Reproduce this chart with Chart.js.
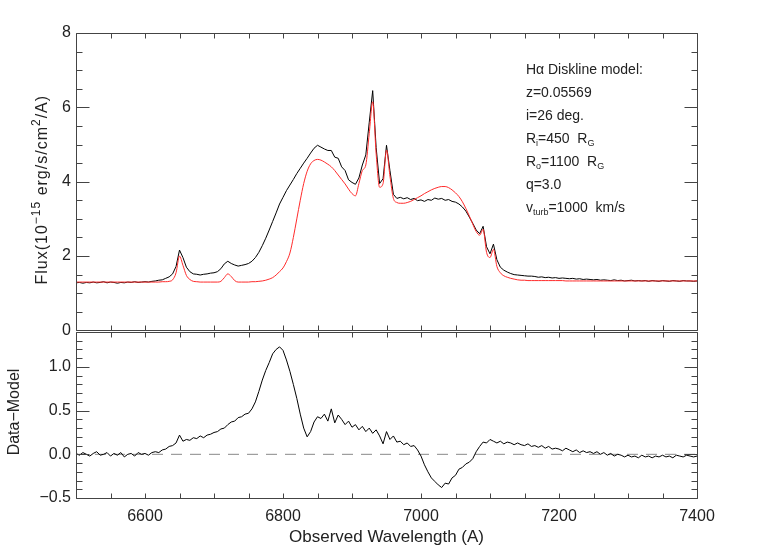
<!DOCTYPE html>
<html>
<head>
<meta charset="utf-8">
<script src="https://cdn.jsdelivr.net/npm/chart.js@4.4.1/dist/chart.umd.min.js"></script>
<style>
  html, body { margin: 0; padding: 0; background: #fff; }
  #wrap { position: relative; width: 775px; height: 554px; }
  #fluxChart { position: absolute; left: 0; top: 0; }
  #residChart { position: absolute; left: 0; top: 300px; }
</style>
</head>
<body>
<div id="wrap">
  <canvas id="fluxChart" width="775" height="345"></canvas>
  <canvas id="residChart" width="775" height="254"></canvas>
</div>
<script>
// observed wavelength grid (A)
const wavelength = [
  6500, 6505, 6510, 6515, 6520, 6525, 6530, 6535, 6540, 6545,
  6550, 6555, 6560, 6565, 6570, 6575, 6580, 6585, 6590, 6595,
  6600, 6605, 6610, 6615, 6620, 6625, 6630, 6635, 6640, 6645,
  6650, 6655, 6660, 6665, 6670, 6675, 6680, 6685, 6690, 6695,
  6700, 6705, 6710, 6715, 6720, 6725, 6730, 6735, 6740, 6745,
  6750, 6755, 6760, 6765, 6770, 6775, 6780, 6785, 6790, 6795,
  6800, 6805, 6810, 6815, 6820, 6825, 6830, 6835, 6840, 6845,
  6850, 6855, 6860, 6865, 6870, 6875, 6880, 6885, 6890, 6895,
  6900, 6905, 6910, 6915, 6920, 6925, 6930, 6935, 6940, 6945,
  6950, 6955, 6960, 6965, 6970, 6975, 6980, 6985, 6990, 6995,
  7000, 7005, 7010, 7015, 7020, 7025, 7030, 7035, 7040, 7045,
  7050, 7055, 7060, 7065, 7070, 7075, 7080, 7085, 7090, 7095,
  7100, 7105, 7110, 7115, 7120, 7125, 7130, 7135, 7140, 7145,
  7150, 7155, 7160, 7165, 7170, 7175, 7180, 7185, 7190, 7195,
  7200, 7205, 7210, 7215, 7220, 7225, 7230, 7235, 7240, 7245,
  7250, 7255, 7260, 7265, 7270, 7275, 7280, 7285, 7290, 7295,
  7300, 7305, 7310, 7315, 7320, 7325, 7330, 7335, 7340, 7345,
  7350, 7355, 7360, 7365, 7370, 7375, 7380, 7385, 7390, 7395,
  7400
];

// observed flux (1e-15 erg/s/cm2/A)
const flux = [
  1.28, 1.29, 1.27, 1.29, 1.28, 1.30, 1.28, 1.29, 1.31, 1.28,
  1.30, 1.29, 1.27, 1.29, 1.28, 1.30, 1.29, 1.31, 1.29, 1.30,
  1.31, 1.30, 1.32, 1.33, 1.35, 1.36, 1.40, 1.44, 1.52, 1.72,
  2.16, 1.96, 1.70, 1.58, 1.52, 1.51, 1.49, 1.51, 1.52, 1.54,
  1.55, 1.58, 1.66, 1.79, 1.86, 1.80, 1.76, 1.73, 1.75, 1.77,
  1.80, 1.86, 1.96, 2.10, 2.28, 2.48, 2.70, 2.93, 3.16, 3.40,
  3.58, 3.76, 3.91, 4.06, 4.22, 4.36, 4.50, 4.63, 4.77, 4.90,
  4.98, 4.93, 4.88, 4.84, 4.84, 4.66, 4.63, 4.40, 4.30, 4.05,
  3.98, 3.93, 4.10, 4.45, 4.72, 5.60, 6.45, 4.92, 3.95, 4.08,
  4.98, 4.30, 3.66, 3.55, 3.58, 3.54, 3.57, 3.52, 3.55, 3.49,
  3.51, 3.47, 3.52, 3.50, 3.56, 3.53, 3.55, 3.50, 3.52, 3.47,
  3.45, 3.40, 3.32, 3.21, 3.05, 2.88, 2.70, 2.60, 2.80, 2.25,
  2.06, 2.32, 1.90, 1.70, 1.62, 1.57, 1.53, 1.50, 1.49, 1.48,
  1.47, 1.46, 1.46, 1.45, 1.43, 1.44, 1.42, 1.43, 1.41, 1.42,
  1.40, 1.41, 1.40, 1.39, 1.40, 1.38, 1.39, 1.37, 1.38, 1.37,
  1.36, 1.37, 1.35, 1.36, 1.35, 1.34, 1.36, 1.34, 1.35, 1.33,
  1.34, 1.35, 1.33, 1.34, 1.33, 1.34, 1.32, 1.34, 1.33, 1.32,
  1.34, 1.33, 1.32, 1.34, 1.33, 1.32, 1.34, 1.33, 1.33, 1.32,
  1.33
];

// diskline model flux
const model = [
  1.30, 1.30, 1.30, 1.30, 1.30, 1.30, 1.30, 1.30, 1.30, 1.30,
  1.30, 1.30, 1.30, 1.30, 1.30, 1.30, 1.30, 1.30, 1.30, 1.30,
  1.30, 1.30, 1.30, 1.30, 1.30, 1.31, 1.31, 1.32, 1.36, 1.55,
  2.00, 1.75, 1.48, 1.37, 1.32, 1.31, 1.30, 1.30, 1.30, 1.30,
  1.30, 1.30, 1.32, 1.42, 1.52, 1.45, 1.34, 1.30, 1.30, 1.30,
  1.30, 1.31, 1.31, 1.32, 1.33, 1.35, 1.38, 1.42, 1.49, 1.58,
  1.68, 1.85, 2.08, 2.50, 3.00, 3.50, 3.95, 4.28, 4.48, 4.57,
  4.60, 4.58, 4.53, 4.47, 4.40, 4.30, 4.18, 4.06, 3.94, 3.80,
  3.68, 3.62, 3.95, 4.30, 4.45, 5.30, 6.15, 4.75, 3.85, 3.95,
  4.85, 4.15, 3.55, 3.44, 3.42, 3.42, 3.44, 3.47, 3.52, 3.57,
  3.62, 3.68, 3.73, 3.78, 3.82, 3.85, 3.87, 3.87, 3.84, 3.78,
  3.70, 3.60, 3.46, 3.28, 3.08, 2.86, 2.66, 2.56, 2.72, 2.10,
  1.96, 2.18, 1.72, 1.55, 1.47, 1.43, 1.40, 1.38, 1.36, 1.35,
  1.35, 1.34, 1.34, 1.34, 1.34, 1.34, 1.34, 1.34, 1.34, 1.34,
  1.34, 1.34, 1.33, 1.33, 1.33, 1.33, 1.33, 1.33, 1.33, 1.33,
  1.33, 1.33, 1.33, 1.33, 1.33, 1.33, 1.33, 1.33, 1.33, 1.33,
  1.33, 1.33, 1.33, 1.33, 1.33, 1.33, 1.33, 1.33, 1.33, 1.33,
  1.33, 1.33, 1.33, 1.33, 1.33, 1.33, 1.33, 1.33, 1.33, 1.33,
  1.33
];

// data - model residual
const residual = [
  0.01, -0.01, 0.02, 0.00, -0.02, 0.01, 0.03, -0.01, 0.00, 0.02,
  -0.02, 0.01, -0.01, 0.02, -0.03, 0.00, 0.01, -0.02, 0.02, 0.00,
  0.01, -0.01, 0.02, 0.03, 0.02, 0.05, 0.06, 0.09, 0.10, 0.13,
  0.22, 0.15, 0.17, 0.16, 0.19, 0.18, 0.21, 0.19, 0.22, 0.23,
  0.25, 0.26, 0.29, 0.30, 0.34, 0.37, 0.38, 0.42, 0.43, 0.46,
  0.47, 0.52, 0.60, 0.72, 0.85, 0.96, 1.05, 1.15, 1.20, 1.23,
  1.19, 1.08, 0.95, 0.80, 0.64, 0.46, 0.30, 0.20, 0.26, 0.37,
  0.43, 0.41, 0.46, 0.38, 0.52, 0.36, 0.45, 0.40, 0.34, 0.38,
  0.31, 0.34, 0.28, 0.32, 0.26, 0.30, 0.24, 0.28, 0.21, 0.12,
  0.26, 0.17, 0.21, 0.14, 0.15, 0.11, 0.13, 0.09, 0.10, 0.05,
  -0.02, -0.12, -0.20, -0.27, -0.31, -0.35, -0.38, -0.33, -0.34, -0.27,
  -0.24, -0.17, -0.15, -0.11, -0.09, -0.05, 0.03, 0.09, 0.14, 0.13,
  0.17, 0.15, 0.13, 0.15, 0.12, 0.14, 0.13, 0.11, 0.13, 0.11,
  0.10, 0.12, 0.09, 0.10, 0.08, 0.10, 0.07, 0.09, 0.06, 0.07,
  0.06, 0.04, 0.07, 0.05, 0.03, 0.05, 0.02, 0.04, 0.02, 0.03,
  0.01, 0.03, 0.00, 0.02, -0.01, 0.01, -0.02, 0.00, -0.01, -0.03,
  -0.01, -0.03, -0.02, -0.04, -0.01, -0.03, -0.02, -0.04, -0.02, -0.03,
  -0.01, -0.03, -0.02, -0.04, -0.01, -0.02, -0.03, -0.01, -0.02, -0.03,
  -0.02
];

const zeroLineX = [6500, 7400];
const zeroLineY = [0, 0];

const xTickLabels = [6600, 6800, 7000, 7200, 7400];
const fluxTickLabels = [0, 2, 4, 6, 8];
const residTickLabels = [-0.5, 0.0, 0.5, 1.0];

const noteLines = [
  [["H\u03b1 Diskline model:", false]],
  [["z=0.05569", false]],
  [["i=26 deg.", false]],
  [["R", false], ["i", true], ["=450  R", false], ["G", true]],
  [["R", false], ["o", true], ["=1100  R", false], ["G", true]],
  [["q=3.0", false]],
  [["v", false], ["turb", true], ["=1000  km/s", false]],
];

const FONT = "'Liberation Sans', Arial, sans-serif";
const TEXT_COLOR = "#222";

function toPoints(xs, ys) {
  return xs.map((x, i) => ({ x: x, y: ys[i] }));
}

// draw a run of normal / sub / superscript pieces
function drawPieces(ctx, pieces, x, y, size, smallSize, shift) {
  let cx = x;
  pieces.forEach(([txt, small]) => {
    ctx.font = (small ? smallSize : size) + "px " + FONT;
    ctx.fillText(txt, cx, small ? y + shift : y);
    cx += ctx.measureText(txt).width;
  });
  return cx - x;
}

function piecesWidth(ctx, pieces, size, smallSize) {
  let w = 0;
  pieces.forEach(([txt, small]) => {
    ctx.font = (small ? smallSize : size) + "px " + FONT;
    w += ctx.measureText(txt).width;
  });
  return w;
}

// IDL style box with inward ticks
const idlFrame = {
  id: "idlFrame",
  afterDraw(chart, args, o) {
    const { ctx, chartArea: a } = chart;
    const xs = chart.scales.x, ys = chart.scales.y;
    const L = Math.round(a.left) + 0.5, R = Math.round(a.right) + 0.5;
    const T = Math.round(a.top) + 0.5, B = Math.round(a.bottom) + 0.5;
    ctx.save();
    ctx.strokeStyle = "#444";
    ctx.lineWidth = 1;
    ctx.beginPath();
    ctx.rect(L, T, R - L, B - T);
    for (let v = xs.min; v <= xs.max + 1e-6; v += o.xStep) {
      const px = Math.round(xs.getPixelForValue(v)) + 0.5;
      ctx.moveTo(px, B); ctx.lineTo(px, B - o.xLen);
      ctx.moveTo(px, T); ctx.lineTo(px, T + o.xLen);
    }
    const n = Math.round((ys.max - ys.min) / o.yMinor);
    for (let k = 0; k <= n; k++) {
      const v = ys.min + k * o.yMinor;
      const major = Math.abs(v / o.yMajor - Math.round(v / o.yMajor)) < 1e-6;
      const len = major ? o.majorLen : o.minorLen;
      const py = Math.round(ys.getPixelForValue(v)) + 0.5;
      ctx.moveTo(L, py); ctx.lineTo(L + len, py);
      ctx.moveTo(R, py); ctx.lineTo(R - len, py);
    }
    ctx.stroke();
    ctx.restore();
  },
};

// y titles and model notes
const panelText = {
  id: "panelText",
  afterDraw(chart, args, o) {
    const { ctx, chartArea: a } = chart;
    ctx.save();
    ctx.fillStyle = TEXT_COLOR;
    ctx.textBaseline = "middle";
    ctx.letterSpacing = o.titleSpacing;
    const cy = (a.top + a.bottom) / 2 + o.titleDy;
    ctx.translate(o.titleX, cy);
    ctx.rotate(-Math.PI / 2);
    const w = piecesWidth(ctx, o.title, 16, 12);
    drawPieces(ctx, o.title, -w / 2, 0, 16, 12, -6);
    ctx.restore();

    if (o.notes) {
      ctx.save();
      ctx.fillStyle = TEXT_COLOR;
      ctx.textBaseline = "alphabetic";
      const x0 = chart.scales.x.getPixelForValue(o.notesAt);
      noteLines.forEach((line, i) => {
        drawPieces(ctx, line, x0, o.notesTop + i * o.notesGap, 14, 9, 3);
      });
      ctx.restore();
    }
  },
};

const tickFont = { family: FONT, size: 16 };

new Chart(document.getElementById("fluxChart"), {
  type: "line",
  data: {
    datasets: [
      {
        label: "Model",
        data: toPoints(wavelength, model),
        borderColor: "#ff2b2b",
        borderWidth: 1,
        pointRadius: 0,
        cubicInterpolationMode: "monotone",
      },
      {
        label: "Data",
        data: toPoints(wavelength, flux),
        borderColor: "#000",
        borderWidth: 1,
        pointRadius: 0,
        tension: 0,
      },
    ],
  },
  options: {
    responsive: false,
    animation: false,
    events: [],
    layout: { padding: { left: 0, right: 78, top: 33, bottom: 13 } },
    plugins: {
      legend: { display: false },
      tooltip: { enabled: false },
      idlFrame: { xStep: 50, xLen: 5, yMajor: 2, yMinor: 0.5, majorLen: 13, minorLen: 6 },
      panelText: {
        title: [["Flux(10", false], ["\u221215", true], [" erg/s/cm", false], ["2", true], ["/A)", false]],
        titleX: 43,
        titleDy: 8,
        titleSpacing: "1px",
        notes: true,
        notesAt: 7152,
        notesTop: 74,
        notesGap: 23,
      },
    },
    scales: {
      x: { type: "linear", min: 6500, max: 7400, display: false },
      y: {
        min: 0,
        max: 8,
        afterFit: (s) => { s.width = 76; },
        afterBuildTicks: (s) => { s.ticks = fluxTickLabels.map((v) => ({ value: v })); },
        grid: { display: false, drawTicks: false },
        border: { display: false },
        ticks: { font: tickFont, color: TEXT_COLOR, padding: 5, callback: (v) => String(v) },
      },
    },
  },
  plugins: [idlFrame, panelText],
});

new Chart(document.getElementById("residChart"), {
  type: "line",
  data: {
    datasets: [
      {
        label: "Residual",
        data: toPoints(wavelength, residual),
        borderColor: "#000",
        borderWidth: 1,
        pointRadius: 0,
        tension: 0,
      },
      {
        label: "Zero",
        data: toPoints(zeroLineX, zeroLineY),
        borderColor: "#888",
        borderWidth: 1,
        borderDash: [11, 8],
        pointRadius: 0,
      },
    ],
  },
  options: {
    responsive: false,
    animation: false,
    events: [],
    layout: { padding: { left: 0, right: 78, top: 32, bottom: 0 } },
    plugins: {
      legend: { display: false },
      tooltip: { enabled: false },
      idlFrame: { xStep: 50, xLen: 5, yMajor: 0.5, yMinor: 0.1, majorLen: 13, minorLen: 6 },
      panelText: {
        title: [["Data\u2212Model", false]],
        titleX: 15,
        titleDy: -3,
        titleSpacing: "0px",
        notes: false,
      },
    },
    scales: {
      x: {
        type: "linear",
        min: 6500,
        max: 7400,
        afterFit: (s) => { s.height = 56; },
        afterBuildTicks: (s) => { s.ticks = xTickLabels.map((v) => ({ value: v })); },
        grid: { display: false, drawTicks: false },
        border: { display: false },
        ticks: { font: tickFont, color: TEXT_COLOR, padding: 9, maxRotation: 0, callback: (v) => String(v) },
        title: {
          display: true,
          text: "Observed Wavelength (A)",
          font: { family: FONT, size: 17 },
          color: TEXT_COLOR,
          padding: { top: 0, bottom: 6 },
        },
      },
      y: {
        min: -0.5,
        max: 1.4,
        afterFit: (s) => { s.width = 76; },
        afterBuildTicks: (s) => { s.ticks = residTickLabels.map((v) => ({ value: v })); },
        grid: { display: false, drawTicks: false },
        border: { display: false },
        ticks: {
          font: tickFont,
          color: TEXT_COLOR,
          padding: 5,
          callback: (v) => (v < 0 ? "\u2212" : "") + Math.abs(v).toFixed(1),
        },
      },
    },
  },
  plugins: [idlFrame, panelText],
});
</script>
</body>
</html>
